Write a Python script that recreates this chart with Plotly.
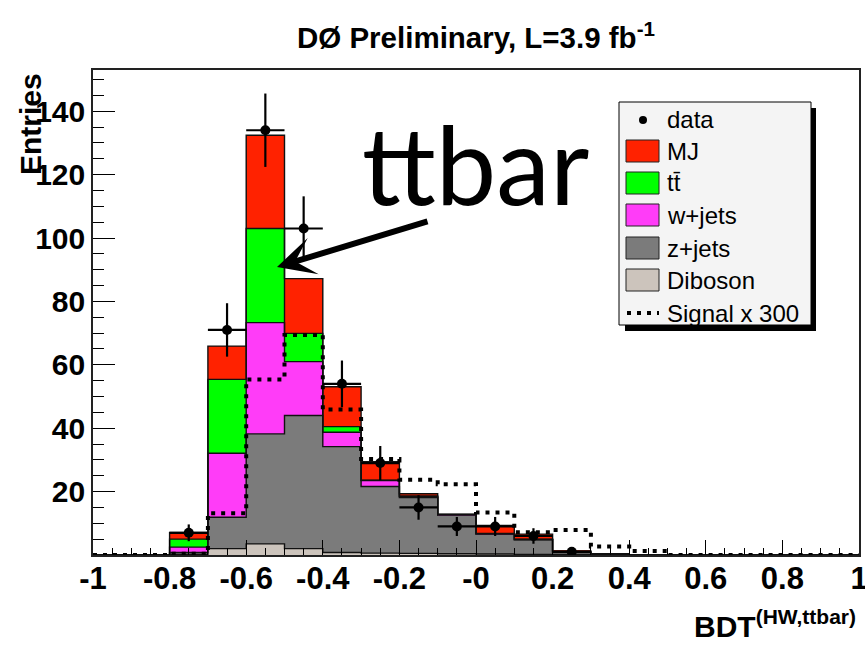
import math
import plotly.graph_objects as go

# ---------------- data ----------------
bin_centers = [-0.95, -0.85, -0.75, -0.65, -0.55, -0.45, -0.35, -0.25, -0.15, -0.05,
               0.05, 0.15, 0.25, 0.35, 0.45, 0.55, 0.65, 0.75, 0.85, 0.95]
bin_width = 0.1

diboson = [0, 0, 0.2, 2.0, 3.5, 2.0, 0.8, 0.6, 0.5, 0.4, 0.3, 0.2, 0.1, 0.05, 0, 0, 0, 0, 0, 0]
zjets   = [0, 0, 0.6, 9.9, 34.7, 42.0, 33.4, 21.0, 17.6, 12.2, 6.3, 4.6, 0.7, 0.25, 0.1, 0, 0, 0, 0, 0]
wjets   = [0, 0, 1.7, 20.2, 35.1, 17.0, 4.5, 1.9, 0.3, 0.1, 0.1, 0.1, 0.1, 0, 0, 0, 0, 0, 0, 0]
ttbar   = [0, 0, 2.5, 23.3, 29.7, 8.9, 1.8, 0.1, 0.2, 0.1, 0.1, 0.1, 0.1, 0, 0, 0, 0, 0, 0, 0]
mj      = [0, 0, 2.1, 10.5, 29.4, 17.3, 12.6, 5.8, 0.7, 0.1, 2.5, 1.6, 0.3, 0, 0, 0, 0, 0, 0, 0]
signal_x300 = [0, 0, 0.4, 13.2, 55.4, 69.4, 45.9, 30.3, 23.7, 22.3, 13.4, 7.2, 7.9, 2.7, 1.3, 0, 0, 0, 0, 0]
data    = [None, None, 7, 71, 134, 103, 54, 29, 15, 9, 9, 6, 1, None, None, None, None, None, None, None]

x_tick_vals = [-1, -0.8, -0.6, -0.4, -0.2, 0, 0.2, 0.4, 0.6, 0.8, 1]
x_tick_text = ["-1", "-0.8", "-0.6", "-0.4", "-0.2", "-0", "0.2", "0.4", "0.6", "0.8", "1"]
y_tick_vals = [20, 40, 60, 80, 100, 120, 140]

components = [
    ("Diboson", diboson, "#ccc4bc"),
    ("z+jets", zjets, "#7b7b7b"),
    ("w+jets", wjets, "#ff3cf8"),
    ("tt\u0304", ttbar, "#00ff00"),
    ("MJ", mj, "#ff2200"),
]

# ---------------- geometry ----------------
W, H = 865, 645
ML, MR, MT, MB = 93, 6, 70, 90
PW, PH = W - ML - MR, H - MT - MB


def px(xp):
    return (xp - ML) / PW


def py(yp):
    return (H - MB - yp) / PH


edges = [c - bin_width / 2 for c in bin_centers] + [bin_centers[-1] + bin_width / 2]

fig = go.Figure()

# stacked filled bins
for name, vals, col in components:
    fig.add_trace(go.Bar(x=bin_centers, y=vals, width=bin_width, name=name,
                         marker=dict(color=col, line=dict(width=0)), showlegend=False))

# outlines of the cumulative stack (ROOT-style step lines)
cum = [0.0] * len(bin_centers)
for name, vals, col in components:
    cum = [a + b for a, b in zip(cum, vals)]
    fig.add_trace(go.Scatter(x=edges, y=cum + [cum[-1]], mode="lines", line_shape="hv",
                             line=dict(color="#111111", width=1.4), showlegend=False,
                             hoverinfo="skip"))

# signal x 300 dotted
fig.add_trace(go.Scatter(x=edges, y=signal_x300 + [signal_x300[-1]], mode="lines",
                         line_shape="hv", line=dict(color="black", width=4, dash="4px,6px"),
                         showlegend=False, name="Signal x 300"))

# data
dx = [c for c, d in zip(bin_centers, data) if d is not None]
dy = [d for d in data if d is not None]
fig.add_trace(go.Scatter(
    x=dx, y=dy, mode="markers", name="data", showlegend=False,
    marker=dict(color="black", size=10, symbol="circle"),
    error_y=dict(type="data", array=[math.sqrt(v) for v in dy], thickness=2.2, width=0, color="black"),
    error_x=dict(type="constant", value=bin_width / 2, thickness=2.2, width=0, color="black"),
))

# ---------------- manual legend ----------------
shapes = []
annotations = []
shapes.append(dict(type="rect", xref="paper", yref="paper", x0=px(625), x1=px(816), y0=py(331), y1=py(108),
                   fillcolor="black", line=dict(width=0), layer="above"))
shapes.append(dict(type="rect", xref="paper", yref="paper", x0=px(619), x1=px(811), y0=py(325), y1=py(102),
                   fillcolor="#f4f4f4", line=dict(color="black", width=1), layer="above"))
# data marker
shapes.append(dict(type="circle", xref="paper", yref="paper", x0=px(639), x1=px(647), y0=py(124), y1=py(116),
                   fillcolor="black", line=dict(width=0), layer="above"))
leg_rows = [("data", 120)]
box_rows = [("MJ", "#ff2200", 140), ("tt\u0304", "#00ff00", 172), ("w+jets", "#ff3cf8", 204),
            ("z+jets", "#7b7b7b", 237), ("Diboson", "#ccc4bc", 269)]
for label, col, ytop in box_rows:
    shapes.append(dict(type="rect", xref="paper", yref="paper", x0=px(626), x1=px(659), y0=py(ytop + 22), y1=py(ytop),
                       fillcolor=col, line=dict(color="#222", width=1), layer="above"))
    leg_rows.append((label, ytop + 11))
shapes.append(dict(type="line", xref="paper", yref="paper", x0=px(627), x1=px(659), y0=py(313), y1=py(313),
                   line=dict(color="black", width=4, dash="4px,6px"), layer="above"))
leg_rows.append(("Signal x 300", 313))
for label, yc in leg_rows:
    annotations.append(dict(xref="paper", yref="paper", x=px(665), y=py(yc), text=label, showarrow=False,
                            xanchor="left", yanchor="middle",
                            font=dict(family="Liberation Sans", size=24, color="black")))

# ---------------- texts ----------------
annotations.append(dict(xref="paper", yref="paper", x=px(30), y=py(124), text="<b>Entries</b>", textangle=-90,
                        showarrow=False, xanchor="center", yanchor="middle",
                        font=dict(family="Liberation Sans", size=30, color="black")))
annotations.append(dict(xref="paper", yref="paper", x=px(858), y=py(624), text="<b>BDT<sup>(HW,ttbar)</sup></b>",
                        showarrow=False, xanchor="right", yanchor="middle",
                        font=dict(family="Liberation Sans", size=30, color="black")))
annotations.append(dict(xref="paper", yref="paper", x=px(360), y=py(163), text="ttbar",
                        showarrow=False, xanchor="left", yanchor="middle",
                        font=dict(family="Lato", size=108, color="black")))
annotations.append(dict(xref="paper", yref="paper", x=px(277), y=py(267), text="", showarrow=True,
                        ax=152, ay=-46, arrowhead=3, arrowsize=1.05, arrowwidth=6, arrowcolor="black"))

fig.update_layout(
    width=W, height=H,
    margin=dict(l=ML, r=MR, t=MT, b=MB, autoexpand=False),
    paper_bgcolor="white", plot_bgcolor="white",
    barmode="stack", bargap=0, showlegend=False,
    title=dict(text="<b>DØ Preliminary, L=3.9 fb<sup>-1</sup></b>", xref="paper", x=0.5, xanchor="center",
               yref="container", y=1 - 38 / H, yanchor="middle",
               font=dict(family="Liberation Sans", size=29.5, color="black")),
    shapes=shapes, annotations=annotations,
)
fig.update_xaxes(range=[-1, 1], tickmode="array", tickvals=x_tick_vals, ticktext=x_tick_text,
                 automargin=False,
                 ticks="inside", ticklen=15, tickwidth=1.3, tickcolor="black",
                 ticklabeloverflow="allow", ticklabelstandoff=-5,
                 minor=dict(tick0=-1, dtick=0.05, ticks="inside", ticklen=7, tickwidth=1, tickcolor="black",
                            showgrid=False),
                 showline=True, mirror=True, linecolor="#222", linewidth=1.6, showgrid=False, zeroline=False,
                 tickfont=dict(family="Liberation Sans", size=31, color="black", weight="bold"))
fig.update_yaxes(range=[0, 153], tickmode="array", tickvals=y_tick_vals,
                 automargin=False,
                 ticks="inside", ticklen=22, tickwidth=1.3, tickcolor="black",
                 minor=dict(tick0=0, dtick=5, ticks="inside", ticklen=11, tickwidth=1, tickcolor="black",
                            showgrid=False),
                 showline=True, mirror=True, linecolor="#222", linewidth=1.6, showgrid=False, zeroline=False,
                 tickfont=dict(family="Liberation Sans", size=30, color="black", weight="bold"))

fig.write_html("out.html")
